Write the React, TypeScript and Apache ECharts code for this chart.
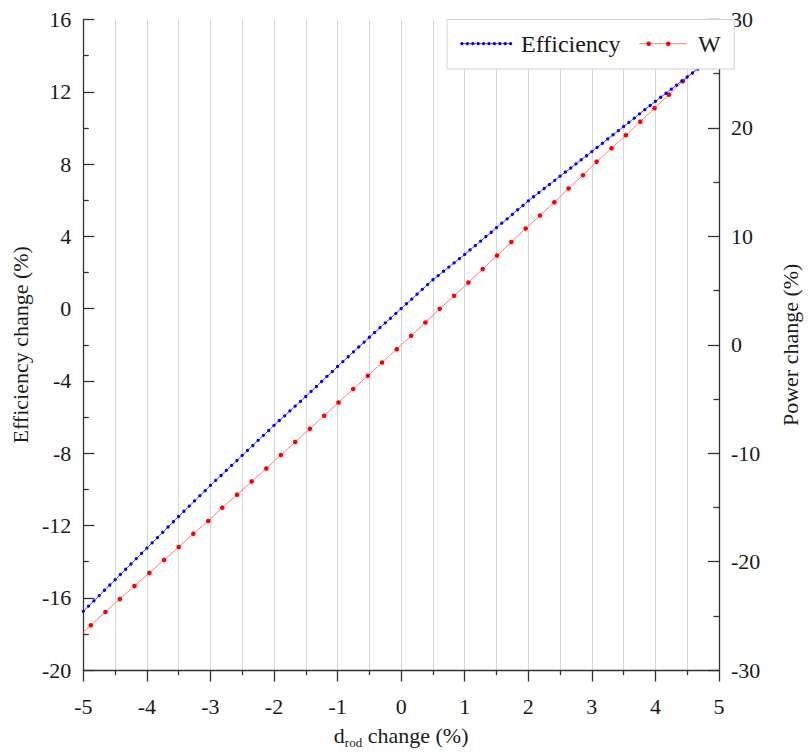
import React, { useEffect, useRef } from "react";
import * as echarts from "echarts";

// ---- Data ----
const BLUE_X = [
  -5.0, -4.917, -4.833, -4.75, -4.667, -4.583, -4.5, -4.417, -4.333, -4.25, -4.167, -4.083,
  -4.0, -3.917, -3.833, -3.75, -3.667, -3.583, -3.5, -3.417, -3.333, -3.25, -3.167, -3.083,
  -3.0, -2.917, -2.833, -2.75, -2.667, -2.583, -2.5, -2.417, -2.333, -2.25, -2.167, -2.083,
  -2.0, -1.917, -1.833, -1.75, -1.667, -1.583, -1.5, -1.417, -1.333, -1.25, -1.167, -1.083,
  -1.0, -0.917, -0.833, -0.75, -0.667, -0.583, -0.5, -0.417, -0.333, -0.25, -0.167, -0.083,
  0.0, 0.083, 0.167, 0.25, 0.333, 0.417, 0.5, 0.583, 0.667, 0.75, 0.833, 0.917,
  1.0, 1.083, 1.167, 1.25, 1.333, 1.417, 1.5, 1.583, 1.667, 1.75, 1.833, 1.917,
  2.0, 2.083, 2.167, 2.25, 2.333, 2.417, 2.5, 2.583, 2.667, 2.75, 2.833, 2.917,
  3.0, 3.083, 3.167, 3.25, 3.333, 3.417, 3.5, 3.583, 3.667, 3.75, 3.833, 3.917,
  4.0, 4.083, 4.167, 4.25, 4.333, 4.417, 4.5, 4.583, 4.667, 4.75, 4.833, 4.917, 5.0,
];
const BLUE_Y = [
  -16.75, -16.46, -16.17, -15.88, -15.58, -15.29, -15.0, -14.71, -14.42, -14.13, -13.83, -13.54,
  -13.25, -12.96, -12.67, -12.38, -12.08, -11.79, -11.5, -11.21, -10.93, -10.64, -10.35, -10.07,
  -9.78, -9.5, -9.23, -8.95, -8.67, -8.4, -8.12, -7.84, -7.57, -7.29, -7.01, -6.74,
  -6.46, -6.19, -5.93, -5.66, -5.39, -5.13, -4.86, -4.58, -4.31, -4.03, -3.75, -3.48,
  -3.2, -2.93, -2.66, -2.39, -2.12, -1.85, -1.58, -1.32, -1.05, -0.79, -0.53, -0.26,
  0.0, 0.27, 0.53, 0.8, 1.07, 1.33, 1.6, 1.83, 2.07, 2.3, 2.53, 2.77,
  3.0, 3.25, 3.49, 3.74, 3.99, 4.23, 4.48, 4.73, 4.97, 5.22, 5.47, 5.71,
  5.96, 6.19, 6.42, 6.65, 6.87, 7.1, 7.33, 7.56, 7.78, 8.01, 8.24, 8.46,
  8.69, 8.92, 9.15, 9.39, 9.62, 9.85, 10.08, 10.31, 10.54, 10.78, 11.01, 11.24,
  11.47, 11.7, 11.92, 12.15, 12.37, 12.6, 12.82, 13.04, 13.26, 13.49, 13.71, 13.93, 14.15,
];

// W (power change) on the right axis; first and last entries are line ends without a marker
const RED_X = [
  -5.0, -4.882, -4.651, -4.425, -4.195, -3.96, -3.73, -3.499, -3.269, -3.034,
  -2.813, -2.582, -2.352, -2.121, -1.891, -1.667, -1.436, -1.21, -0.985,
  -0.754, -0.524, -0.3, -0.069, 0.157, 0.382, 0.607, 0.833, 1.058,
  1.283, 1.508, 1.734, 1.959, 2.184, 2.41, 2.634, 2.86, 3.075,
  3.31, 3.536, 3.762, 3.986, 4.212, 4.432, 5.0,
];
const RED_Y = [
  -26.52, -25.87, -24.64, -23.44, -22.24, -21.04, -19.84, -18.65, -17.42, -16.25,
  -15.02, -13.82, -12.6, -11.4, -10.17, -8.97, -7.74, -6.54, -5.32,
  -4.08, -2.86, -1.63, -0.4, 0.83, 2.06, 3.32, 4.52, 5.74,
  6.98, 8.23, 9.47, 10.72, 11.92, 13.15, 14.41, 15.64, 16.89,
  18.13, 19.33, 20.58, 21.82, 23.07, 24.3, 27.42,
];

const LEFT_TICKS = { min: -20, max: 16, interval: 4 };
const RIGHT_TICKS = { min: -30, max: 30, interval: 10 };
const X_TICKS = { min: -5, max: 5, interval: 1 };

const SERIES_NAMES = ["Efficiency", "W"];

const FONT = "Liberation Serif";
const TXT = "#1a1a1a";
const AXIS = "#333333";

export default function App() {
  const ref = useRef<HTMLDivElement>(null);

  useEffect(() => {
    if (!ref.current) return;
    const chart = echarts.init(ref.current, undefined, { renderer: "svg" });

    const blueData = BLUE_X.map((x, i) => [x, BLUE_Y[i]]);
    const redData = RED_X.map((x, i) => {
      const item: any = { value: [x, RED_Y[i]] };
      if (i === 0 || i === RED_X.length - 1) item.symbol = "none";
      return item;
    });

    const gridLeft = 83.3;
    const gridTop = 19.5;
    const gridW = 651;
    const gridH = 651.5;
    const legL = 447;
    const legR = gridLeft + gridW;
    const legT = gridTop;
    const legH = 49.5;
    const iconY = 43.7;

    const blueDots: any[] = [];
    for (let k = 0; k < 10; k++) {
      blueDots.push({
        type: "circle",
        z: 101,
        shape: { cx: 462 + k * 5.4, cy: iconY, r: 1.6 },
        style: { fill: "#0000ff" },
      });
    }

    const labelStyle = { fontFamily: FONT, fontSize: 22, color: TXT };

    const option: any = {
      animation: false,
      backgroundColor: "#ffffff",
      textStyle: { fontFamily: FONT, color: TXT },
      grid: { left: gridLeft, top: gridTop, width: gridW, height: gridH, containLabel: false },
      xAxis: {
        type: "value",
        min: X_TICKS.min,
        max: X_TICKS.max,
        interval: X_TICKS.interval,
        name: "{a|d}{s|rod}{a| change (%)}",
        nameLocation: "middle",
        nameGap: 44,
        nameTextStyle: {
          fontFamily: FONT,
          color: TXT,
          rich: {
            a: { fontFamily: FONT, fontSize: 22, color: TXT, lineHeight: 26 },
            s: { fontFamily: FONT, fontSize: 13, color: TXT, lineHeight: 14, padding: [14, 0, 0, 0] },
          },
        },
        axisLine: { show: true, onZero: false, lineStyle: { color: AXIS, width: 1.3 } },
        axisTick: { show: true, inside: false, length: 11.5, lineStyle: { color: AXIS, width: 1.3 } },
        minorTick: { show: true, splitNumber: 2, length: 5, lineStyle: { color: AXIS, width: 1.3 } },
        axisLabel: { ...labelStyle, margin: 25 },
        splitLine: { show: true, lineStyle: { color: "#d6d6d6", width: 1 } },
        minorSplitLine: { show: true, lineStyle: { color: "#d6d6d6", width: 1 } },
      },
      yAxis: [
        {
          type: "value",
          position: "left",
          min: LEFT_TICKS.min,
          max: LEFT_TICKS.max,
          interval: LEFT_TICKS.interval,
          name: "Efficiency change (%)",
          nameLocation: "middle",
          nameGap: 51,
          nameTextStyle: { fontFamily: FONT, fontSize: 22, color: TXT },
          axisLine: { show: true, onZero: false, lineStyle: { color: AXIS, width: 1.3 } },
          axisTick: { show: true, inside: true, length: 11, lineStyle: { color: AXIS, width: 1.3 } },
          minorTick: { show: true, splitNumber: 2, length: 5.5, lineStyle: { color: AXIS, width: 1.3 } },
          axisLabel: { ...labelStyle, margin: 12 },
          splitLine: { show: false },
        },
        {
          type: "value",
          position: "right",
          min: RIGHT_TICKS.min,
          max: RIGHT_TICKS.max,
          interval: RIGHT_TICKS.interval,
          name: "Power change (%)",
          nameLocation: "middle",
          nameGap: 60,
          nameTextStyle: { fontFamily: FONT, fontSize: 22, color: TXT },
          axisLine: { show: true, onZero: false, lineStyle: { color: AXIS, width: 1.3 } },
          axisTick: { show: true, inside: true, length: 11, lineStyle: { color: AXIS, width: 1.3 } },
          minorTick: { show: true, splitNumber: 2, length: 5.5, lineStyle: { color: AXIS, width: 1.3 } },
          axisLabel: { ...labelStyle, margin: 12 },
          splitLine: { show: false },
        },
      ],
      series: [
        {
          name: SERIES_NAMES[0],
          type: "line",
          yAxisIndex: 0,
          data: blueData,
          symbol: "circle",
          symbolSize: 3.3,
          showSymbol: true,
          itemStyle: { color: "#0000ff" },
          lineStyle: { color: "#4a4aff", width: 1 },
          z: 3,
        },
        {
          name: SERIES_NAMES[1],
          type: "line",
          yAxisIndex: 1,
          data: redData,
          symbol: "circle",
          symbolSize: 4.6,
          showSymbol: true,
          itemStyle: { color: "#ff0000" },
          lineStyle: { color: "#ff7a7a", width: 1 },
          z: 2,
        },
      ],
      graphic: [
        {
          type: "rect",
          z: 100,
          shape: { x: legL, y: legT, width: legR - legL, height: legH },
          style: { fill: "#ffffff", stroke: "#d0d0d0", lineWidth: 1 },
        },
        {
          type: "line",
          z: 101,
          shape: { x1: 460, y1: iconY, x2: 512, y2: iconY },
          style: { stroke: "#4a4aff", lineWidth: 1 },
        },
        ...blueDots,
        {
          type: "text",
          z: 101,
          x: 521,
          y: iconY,
          style: {
            text: SERIES_NAMES[0],
            fontFamily: FONT,
            fontSize: 24,
            fill: TXT,
            verticalAlign: "middle",
          },
        },
        {
          type: "line",
          z: 101,
          shape: { x1: 639.3, y1: iconY, x2: 686.7, y2: iconY },
          style: { stroke: "#ff7a7a", lineWidth: 1 },
        },
        {
          type: "circle",
          z: 101,
          shape: { cx: 648.7, cy: iconY, r: 2.3 },
          style: { fill: "#ff0000" },
        },
        {
          type: "circle",
          z: 101,
          shape: { cx: 668.3, cy: iconY, r: 2.3 },
          style: { fill: "#ff0000" },
        },
        {
          type: "text",
          z: 101,
          x: 698,
          y: iconY,
          style: {
            text: SERIES_NAMES[1],
            fontFamily: FONT,
            fontSize: 24,
            fill: TXT,
            verticalAlign: "middle",
          },
        },
      ],
    };

    chart.setOption(option);
    return () => chart.dispose();
  }, []);

  return (
    <div
      ref={ref}
      style={{ position: "fixed", left: 0, top: 0, width: 809, height: 754, background: "#fff" }}
    />
  );
}
